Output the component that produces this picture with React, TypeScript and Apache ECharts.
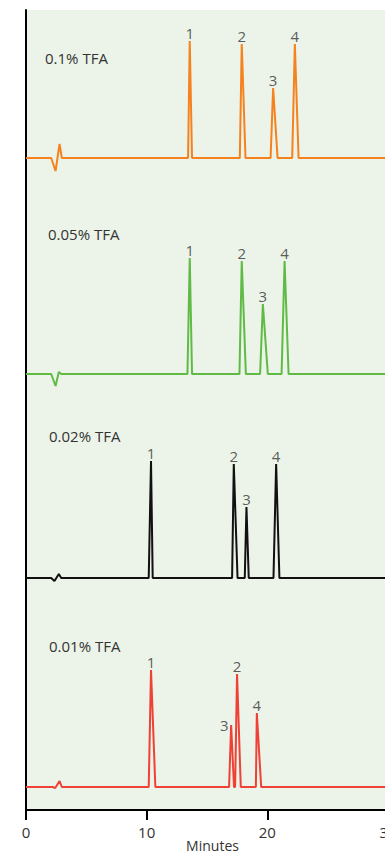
import React, { useEffect, useRef } from 'react';
import * as echarts from 'echarts';

// Axis
const X_MIN = 0;
const X_MAX = 30;
const X_INTERVAL = 10;
const Y_MIN = 0;
const Y_MAX = 800;

// Traces (top to bottom)
const traceNames = ['0.1% TFA', '0.05% TFA', '0.02% TFA', '0.01% TFA'];
const traceColors = ['#F5821F', '#5FBB46', '#111111', '#EF4136'];
const traceOffsets = [652, 436, 232, 23];

// retention times (min) and signal (relative to baseline)
const tfa010Times = [0, 2.09, 2.45, 2.78, 2.97, 13.43, 13.57, 13.76, 17.72, 17.88, 18.19, 20.27, 20.48, 20.85, 22.06, 22.28, 22.59, 30];
const tfa010Signal = [0, 0, -13, 14, 0, 0, 117, 0, 0, 114, 0, 0, 70, 0, 0, 114, 0, 0];

const tfa005Times = [0, 2.09, 2.45, 2.72, 2.92, 13.38, 13.57, 13.76, 17.69, 17.88, 18.22, 19.40, 19.63, 20.04, 21.18, 21.43, 21.76, 30];
const tfa005Signal = [0, 0, -12, 2, 0, 0, 116, 0, 0, 113, 0, 0, 70, 0, 0, 113, 0, 0];

const tfa002Times = [0, 2.09, 2.36, 2.72, 2.92, 10.17, 10.36, 10.50, 17.08, 17.22, 17.53, 18.13, 18.27, 18.46, 20.51, 20.73, 21.00, 30];
const tfa002Signal = [0, 0, -3, 4, 0, 0, 117, 0, 0, 114, 0, 0, 71, 0, 0, 114, 0, 0];

const tfa001Times = [0, 2.22, 2.42, 2.78, 2.97, 10.17, 10.36, 10.72, 16.83, 17.00, 17.24, 17.33, 17.49, 17.80, 19.05, 19.13, 19.49, 30];
const tfa001Signal = [0, 0, -1, 6, 0, 0, 117, 0, 0, 62, 0, 0, 113, 0, 0, 74, 0, 0];

// apex indices and peak numbers
const apexIndices = [6, 9, 12, 15];
const tfa010Peaks = ['1', '2', '3', '4'];
const tfa005Peaks = ['1', '2', '3', '4'];
const tfa002Peaks = ['1', '2', '3', '4'];
const tfa001Peaks = ['1', '3', '2', '4'];

const traceTimes = [tfa010Times, tfa005Times, tfa002Times, tfa001Times];
const traceSignals = [tfa010Signal, tfa005Signal, tfa002Signal, tfa001Signal];
const tracePeaks = [tfa010Peaks, tfa005Peaks, tfa002Peaks, tfa001Peaks];

const FONT = '"Open Sans", "Noto Sans", sans-serif';
const TEXT = '#333333';
const nameLabelPos = [
  [45, 58],
  [48, 234],
  [49, 436],
  [49, 646],
];

export default function App() {
  const ref = useRef<HTMLDivElement>(null);
  useEffect(() => {
    if (!ref.current) return;
    const chart = echarts.init(ref.current, null, { renderer: 'svg' });
    const series: any[] = [];
    traceTimes.forEach((times, k) => {
      const sig = traceSignals[k];
      const off = traceOffsets[k];
      series.push({
        type: 'line',
        data: times.map((t, i) => [t, off + sig[i]]),
        symbol: 'none',
        lineStyle: { color: traceColors[k], width: 2 },
        itemStyle: { color: traceColors[k] },
        z: 3,
      });
      series.push({
        type: 'scatter',
        symbolSize: 1,
        itemStyle: { color: 'transparent' },
        z: 4,
        data: apexIndices.map((idx, p) => {
          const name = tracePeaks[k][p];
          const isLeft = k === 3 && name === '3';
          return {
            value: [times[idx], off + sig[idx]],
            name,
            label: isLeft
              ? { position: 'left', distance: 2 }
              : { position: 'top', distance: 0 },
          };
        }),
        label: {
          show: true,
          formatter: (p: any) => p.name,
          color: TEXT,
          fontSize: 15,
          fontFamily: FONT,
        },
      });
    });
    chart.setOption({
      animation: false,
      grid: {
        left: 26,
        right: 12,
        top: 10,
        bottom: 44,
        outerBoundsMode: 'none',
        containLabel: false,
        show: true,
        backgroundColor: '#ECF3E8',
        borderWidth: 0,
      },
      xAxis: {
        type: 'value',
        min: X_MIN,
        max: X_MAX,
        interval: X_INTERVAL,
        name: 'Minutes',
        nameLocation: 'middle',
        nameGap: 28,
        nameMoveOverlap: false,
        nameTextStyle: { color: TEXT, fontSize: 14, fontFamily: FONT, padding: [0, 0, 0, 11] },
        axisLine: { lineStyle: { color: '#000', width: 2 } },
        axisTick: { show: true, length: 10, lineStyle: { color: '#000', width: 2 } },
        axisLabel: { color: TEXT, fontSize: 15, fontFamily: FONT, margin: 14 },
        splitLine: { show: false },
      },
      yAxis: {
        type: 'value',
        min: Y_MIN,
        max: Y_MAX,
        axisLine: { show: true, lineStyle: { color: '#000', width: 2 } },
        axisTick: { show: false },
        axisLabel: { show: false },
        splitLine: { show: false },
      },
      graphic: traceNames.map((n, k) => ({
        type: 'text',
        x: nameLabelPos[k][0],
        y: nameLabelPos[k][1],
        z: 10,
        style: {
          text: n,
          fill: TEXT,
          fontSize: 15,
          fontFamily: FONT,
          verticalAlign: 'middle',
        },
      })),
      series,
    });
    return () => chart.dispose();
  }, []);
  return (
    <div style={{ position: 'absolute', left: 0, top: 0, width: 385, height: 854, overflow: 'hidden' }}>
      <div ref={ref} style={{ width: 400, height: 854 }} />
    </div>
  );
}
